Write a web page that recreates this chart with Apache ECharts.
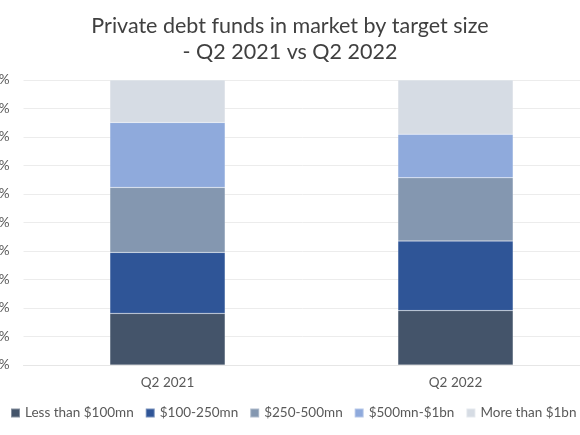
<!DOCTYPE html>
<html>
<head>
<meta charset="utf-8">
<script src="https://cdn.jsdelivr.net/npm/echarts@6/dist/echarts.min.js"></script>
<style>
  html, body { margin: 0; padding: 0; background: #fff; }
  #chart { width: 580px; height: 435px; }
</style>
</head>
<body>
<div id="chart"></div>
<script>
const categories = ["Q2 2021", "Q2 2022"];
const seriesNames = ["Less than $100mn", "$100-250mn", "$250-500mn", "$500mn-$1bn", "More than $1bn"];
const lessThan100 = [18.1, 19.1];
const from100to250 = [21.4, 24.4];
const from250to500 = [22.8, 22.2];
const from500to1bn = [22.8, 15.3];
const moreThan1bn = [14.9, 19.0];
const yTicks = [0, 10, 20, 30, 40, 50, 60, 70, 80, 90, 100];

const palette = ["#44546A", "#2F5597", "#8497B0", "#8FAADC", "#D6DCE4"];
const values = [lessThan100, from100to250, from250to500, from500to1bn, moreThan1bn];

const series = seriesNames.map((name, idx) => ({
  name,
  type: "bar",
  stack: "total",
  barWidth: "40%",
  itemStyle: { color: palette[idx], borderColor: "rgba(255,255,255,0.35)", borderWidth: 0.5 },
  data: values[idx],
}));

const chart = echarts.init(document.getElementById("chart"));
chart.setOption({
  animation: false,
  textStyle: { fontFamily: "Lato" },
  title: {
    text: "Private debt funds in market by target size\n- Q2 2021 vs Q2 2022",
    left: "center",
    top: 8,
    textStyle: { fontSize: 21.5, fontWeight: "normal", color: "#404040", lineHeight: 26, fontFamily: "Lato" },
  },
  legend: {
    top: 406,
    left: 10,
    width: 800,
    icon: "rect",
    itemWidth: 9,
    itemHeight: 9,
    itemGap: 11,
    padding: 0,
    textStyle: { fontSize: 13.5, color: "#595959", fontFamily: "Lato" },
    data: seriesNames,
  },
  grid: { left: 23.5, right: -19.5, top: 80, bottom: 70, containLabel: false, outerBoundsMode: "none" },
  xAxis: {
    type: "category",
    data: categories,
    axisLine: { show: true, lineStyle: { color: "#E6E6E6" } },
    axisTick: { show: false },
    axisLabel: { color: "#595959", fontSize: 13.5, margin: 11 },
  },
  yAxis: {
    type: "value",
    min: yTicks[0],
    max: yTicks[yTicks.length - 1],
    interval: 10,
    axisLine: { show: false },
    axisTick: { show: false },
    splitLine: { lineStyle: { color: "#ECECEC", width: 1 } },
    axisLabel: { color: "#595959", fontSize: 13.5, margin: 14, formatter: (v) => v + "%" },
  },
  series,
});
</script>
</body>
</html>
